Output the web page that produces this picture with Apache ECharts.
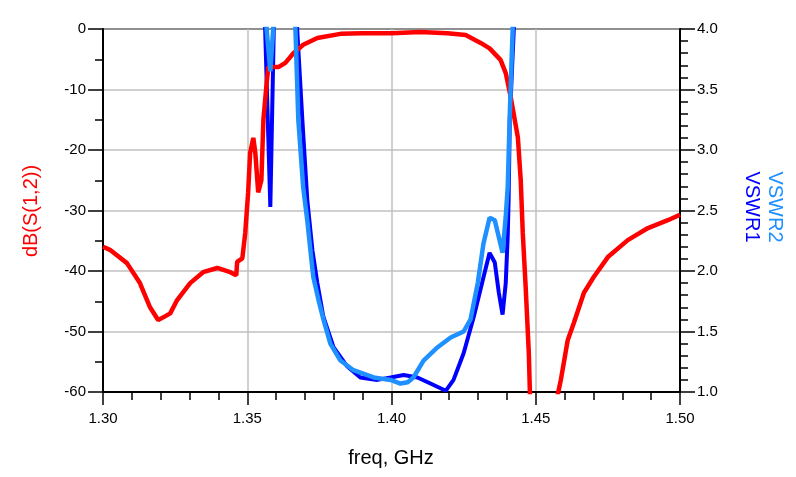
<!DOCTYPE html>
<html>
<head>
<meta charset="utf-8">
<script src="https://cdn.jsdelivr.net/npm/echarts@6/dist/echarts.min.js"></script>
<style>
  html, body { margin: 0; padding: 0; background: #fff; }
  #main { width: 796px; height: 477px; }
</style>
</head>
<body>
<div id="main"></div>
<script>
// x ticks (GHz)
var freqTicks = [1.30, 1.35, 1.40, 1.45, 1.50];

// dB(S(1,2)) -- values below -60 are off the plot and get clipped
var freqS12 = [1.3000, 1.3024, 1.3083, 1.3128, 1.3163, 1.3191, 1.3215, 1.3233, 1.3257, 1.3302,
               1.3347, 1.3396, 1.3441, 1.3462, 1.3465, 1.3483, 1.3493, 1.3503, 1.3510, 1.3521,
               1.3528, 1.3538, 1.3549, 1.3556, 1.3566, 1.3573, 1.3608, 1.3632, 1.3660, 1.3694,
               1.3743, 1.3823, 1.3900, 1.4000, 1.4100, 1.4194, 1.4257, 1.4309, 1.4340, 1.4378,
               1.4396, 1.4413, 1.4438, 1.4448, 1.4455, 1.4465, 1.4476, 1.4480, 1.4485, 1.4570,
               1.4576, 1.4587, 1.4611, 1.4632, 1.4667, 1.4701, 1.4750, 1.4819, 1.4889, 1.4958,
               1.5000];
var dbS12 = [-36.0, -36.5, -38.7, -42.0, -46.0, -48.1, -47.5, -47.0, -44.8, -42.0,
             -40.2, -39.5, -40.2, -40.7, -38.5, -37.9, -33.7, -27.1, -20.5, -18.0,
             -20.5, -27.0, -25.0, -15.0, -9.6, -6.3, -6.3, -5.6, -4.0, -2.6,
             -1.5, -0.8, -0.7, -0.7, -0.5, -0.7, -1.0, -2.3, -3.2, -5.1,
             -7.3, -11.2, -17.9, -25.0, -33.7, -42.6, -53.6, -60.5, -75, -75,
             -60.5, -58.0, -51.4, -48.6, -43.6, -41.0, -37.7, -34.9, -32.9, -31.6,
             -30.7];

// VSWR1 -- values above 4 are off the plot and get clipped
var freqV1 = [1.3550, 1.3562, 1.3580, 1.3592, 1.3605, 1.3640, 1.3660, 1.3673, 1.3691, 1.3708,
              1.3726, 1.3743, 1.3764, 1.3799, 1.3847, 1.3892, 1.3951, 1.3997, 1.4042, 1.4090,
              1.4135, 1.4188, 1.4215, 1.4250, 1.4285, 1.4319, 1.4340, 1.4358, 1.4372, 1.4385,
              1.4396, 1.4403, 1.4406, 1.4410, 1.4424, 1.4435, 1.4450];
var vswr1 = [5.5, 4.0, 2.53, 4.0, 5.5, 6.0, 5.0, 4.0, 3.25, 2.59,
             2.17, 1.90, 1.62, 1.37, 1.21, 1.12, 1.10, 1.12, 1.14, 1.12,
             1.07, 1.01, 1.10, 1.32, 1.62, 1.95, 2.15, 2.07, 1.82, 1.64,
             1.90, 2.30, 2.60, 3.25, 4.0, 5.0, 6.0];

// VSWR2
var freqV2 = [1.3555, 1.3567, 1.3580, 1.3590, 1.3600, 1.3640, 1.3655, 1.3667, 1.3677, 1.3694,
              1.3708, 1.3719, 1.3729, 1.3747, 1.3764, 1.3788, 1.3823, 1.3868, 1.3938, 1.3997,
              1.4031, 1.4056, 1.4076, 1.4111, 1.4160, 1.4205, 1.4250, 1.4274, 1.4299, 1.4319,
              1.4340, 1.4358, 1.4385, 1.4396, 1.4403, 1.4410, 1.4420, 1.4430, 1.4440];
var vswr2 = [5.5, 4.0, 3.65, 4.0, 5.5, 6.0, 5.0, 4.0, 3.25, 2.69,
             2.42, 2.17, 1.95, 1.76, 1.60, 1.40, 1.26, 1.18, 1.12, 1.10,
             1.07, 1.08, 1.12, 1.26, 1.37, 1.45, 1.50, 1.60, 1.90, 2.23,
             2.44, 2.42, 2.15, 2.45, 2.70, 3.30, 4.0, 5.0, 6.0];

function pairs(xs, ys) {
  return xs.map(function (x, i) { return [x, ys[i]]; });
}

var FONT = 'Liberation Sans, Arial, sans-serif';
var RED = '#ff0000', BLUE = '#0000ff', LBLUE = '#1e90ff';
var tickStyle = { color: '#000', width: 1.5 };

// an axis that only draws the short minor ticks
function minorAxis(base, interval, position) {
  return Object.assign({
    interval: interval, position: position, type: 'value',
    axisLine: { show: false, onZero: false },
    axisLabel: { show: false }, splitLine: { show: false },
    axisTick: { show: true, inside: false, length: 8, lineStyle: tickStyle }
  }, base);
}

var chart = echarts.init(document.getElementById('main'));

chart.setOption({
  animation: false,
  grid: {
    left: 103, right: 116, top: 29, bottom: 85,
    show: true, borderColor: '#000', borderWidth: 2, backgroundColor: 'transparent'
  },
  xAxis: [{
    type: 'value', position: 'bottom',
    min: freqTicks[0], max: freqTicks[freqTicks.length - 1], interval: 0.05,
    axisLine: { onZero: false, lineStyle: { color: '#000', width: 2 } },
    axisTick: { length: 13, lineStyle: tickStyle },
    axisLabel: {
      margin: 19, color: '#000', fontSize: 15, fontFamily: FONT,
      formatter: function (v) { return v.toFixed(2); }
    },
    splitLine: { show: true, lineStyle: { color: '#c0c0c0', width: 1.5 } }
  }, minorAxis({ min: 1.30, max: 1.50 }, 0.01, 'bottom')],
  yAxis: [{
    type: 'value', min: -60, max: 0, interval: 10, position: 'left',
    axisLine: { show: true, onZero: false, lineStyle: { color: '#000', width: 2 } },
    axisTick: { show: true, length: 15, lineStyle: tickStyle },
    axisLabel: { margin: 17, color: '#000', fontSize: 15, fontFamily: FONT },
    splitLine: { show: true, lineStyle: { color: '#c0c0c0', width: 1.5 } }
  }, {
    type: 'value', min: 1, max: 4, interval: 0.5, position: 'right',
    axisLine: { show: true, onZero: false, lineStyle: { color: '#000', width: 2 } },
    axisTick: { show: true, length: 15, lineStyle: tickStyle },
    axisLabel: {
      margin: 17, color: '#000', fontSize: 15, fontFamily: FONT,
      formatter: function (v) { return v.toFixed(1); }
    },
    splitLine: { show: false }
  },
  minorAxis({ min: -60, max: 0 }, 5, 'left'),
  minorAxis({ min: 1, max: 4 }, 0.1, 'right')],
  graphic: [
    { type: 'text', x: 31, y: 211, rotation: Math.PI / 2,
      style: { text: 'dB(S(1,2))', fill: RED, font: '20px ' + FONT, textAlign: 'center', textVerticalAlign: 'middle' } },
    { type: 'text', x: 752, y: 207, rotation: -Math.PI / 2,
      style: { text: 'VSWR1', fill: BLUE, font: '20px ' + FONT, textAlign: 'center', textVerticalAlign: 'middle' } },
    { type: 'text', x: 775, y: 207, rotation: -Math.PI / 2,
      style: { text: 'VSWR2', fill: LBLUE, font: '20px ' + FONT, textAlign: 'center', textVerticalAlign: 'middle' } },
    { type: 'text', x: 391, y: 458,
      style: { text: 'freq, GHz', fill: '#000', font: '20px ' + FONT, textAlign: 'center', textVerticalAlign: 'middle' } }
  ],
  series: [{
    name: 'VSWR1', type: 'line', xAxisIndex: 0, yAxisIndex: 1, showSymbol: false, clip: true,
    data: pairs(freqV1, vswr1),
    lineStyle: { color: BLUE, width: 4 }
  }, {
    name: 'dB(S(1,2))', type: 'line', xAxisIndex: 0, yAxisIndex: 0, showSymbol: false, clip: true,
    data: pairs(freqS12, dbS12),
    lineStyle: { color: RED, width: 4.5 }
  }, {
    name: 'VSWR2', type: 'line', xAxisIndex: 0, yAxisIndex: 1, showSymbol: false, clip: true,
    data: pairs(freqV2, vswr2),
    lineStyle: { color: LBLUE, width: 4.5 }
  }]
});
</script>
</body>
</html>
